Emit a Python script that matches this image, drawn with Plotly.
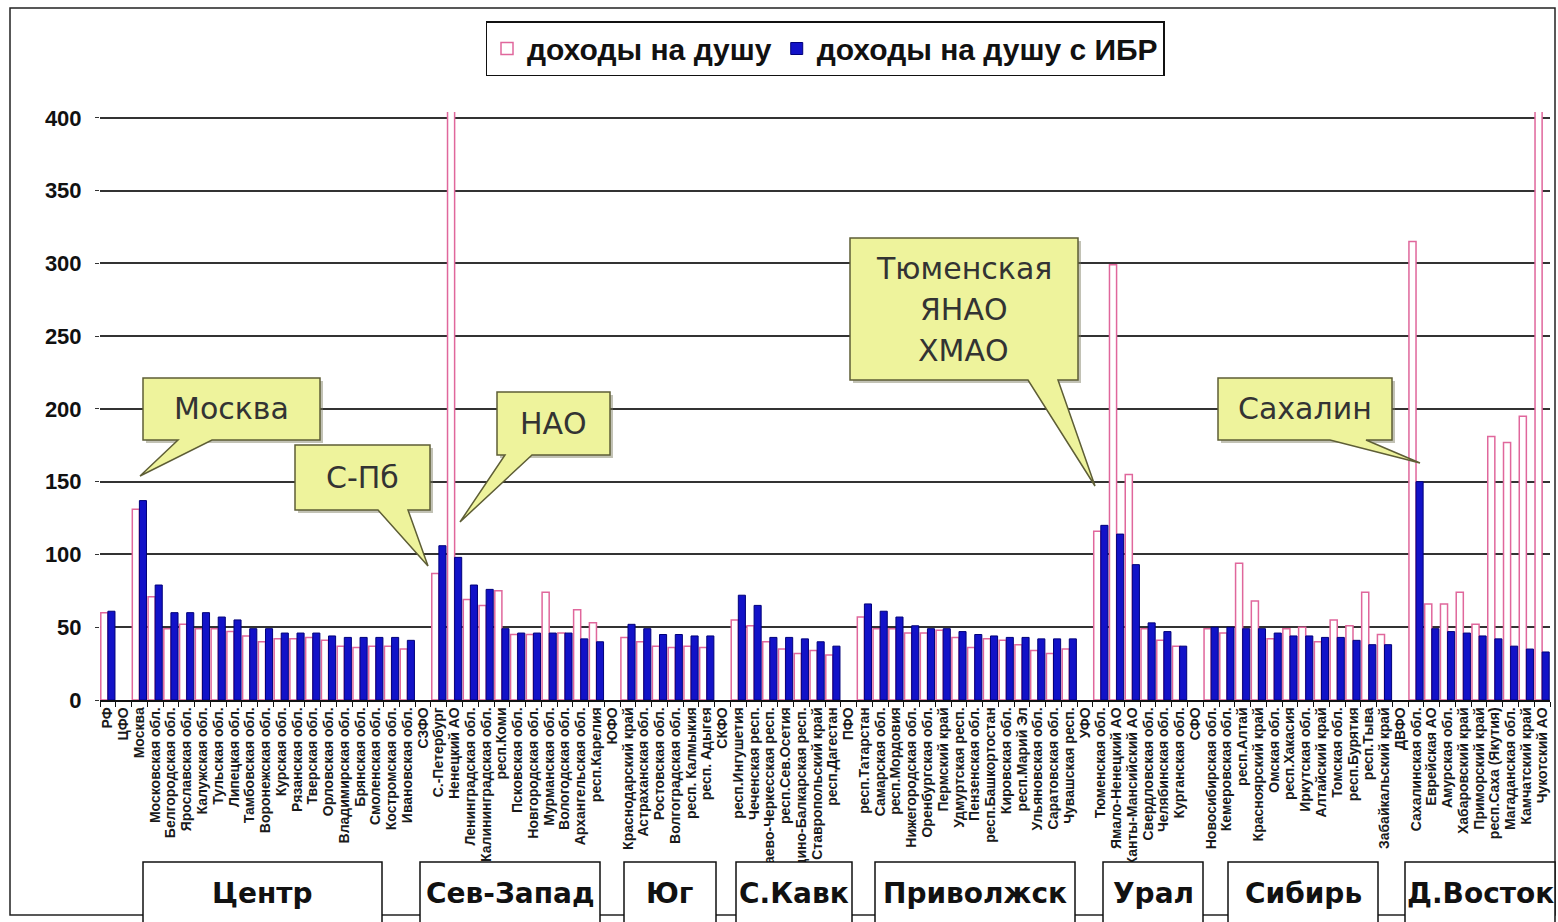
import plotly.graph_objects as go

categories = [
    "РФ", "ЦФО", "Москва", "Московская обл.", "Белгородская обл.", "Ярославская обл.",
    "Калужская обл.", "Тульская обл.", "Липецкая обл.", "Тамбовская обл.", "Воронежская обл.",
    "Курская обл.", "Рязанская обл.", "Тверская обл.", "Орловская обл.", "Владимирская обл.",
    "Брянская обл.", "Смоленская обл.", "Костромская обл.", "Ивановская обл.",
    "СЗФО", "С.-Петербург", "Ненецкий АО", "Ленинградская обл.", "Калининградская обл.",
    "респ.Коми", "Псковская обл.", "Новгородская обл.", "Мурманская обл.", "Вологодская обл.",
    "Архангельская обл.", "респ.Карелия",
    "ЮФО", "Краснодарский край", "Астраханская обл.", "Ростовская обл.", "Волгоградская обл.",
    "респ. Калмыкия", "респ. Адыгея",
    "СКФО", "респ.Ингушетия", "Чеченская респ.", "Карачаево-Черкесская респ.", "респ.Сев.Осетия",
    "Кабардино-Балкарская респ.", "Ставропольский край", "респ.Дагестан",
    "ПФО", "респ.Татарстан", "Самарская обл.", "респ.Мордовия", "Нижегородская обл.",
    "Оренбургская обл.", "Пермский край", "Удмуртская респ.", "Пензенская обл.",
    "респ.Башкортостан", "Кировская обл.", "респ.Марий Эл", "Ульяновская обл.",
    "Саратовская обл.", "Чувашская респ.",
    "УФО", "Тюменская обл.", "Ямало-Ненецкий АО", "Ханты-Мансийский АО", "Свердловская обл.",
    "Челябинская обл.", "Курганская обл.",
    "СФО", "Новосибирская обл.", "Кемеровская обл.", "респ.Алтай", "Красноярский край",
    "Омская обл.", "респ.Хакасия", "Иркутская обл.", "Алтайский край", "Томская обл.",
    "респ.Бурятия", "респ.Тыва", "Забайкальский край",
    "ДВФО", "Сахалинская обл.", "Еврейская АО", "Амурская обл.", "Хабаровский край",
    "Приморский край", "респ.Саха (Якутия)", "Магаданская обл.", "Камчатский край", "Чукотский АО",
]

income = [
    60, None, 131, 71, 49, 52, 49, 49, 47, 44, 40, 42, 42, 43, 41, 37, 36, 37, 37, 35,
    None, 87, 700, 69, 65, 75, 45, 45, 74, 46, 62, 53,
    None, 43, 40, 37, 36, 37, 36,
    None, 55, 51, 40, 35, 32, 34, 31,
    None, 57, 49, 49, 46, 46, 48, 43, 36, 42, 41, 38, 34, 32, 35,
    None, 116, 299, 155, 49, 41, 37,
    None, 49, 46, 94, 68, 42, 49, 50, 40, 55, 51, 74, 45,
    None, 315, 66, 66, 74, 52, 181, 177, 195, 700,
]

income_ibr = [
    61, None, 137, 79, 60, 60, 60, 57, 55, 49, 49, 46, 46, 46, 44, 43, 43, 43, 43, 41,
    None, 106, 98, 79, 76, 49, 46, 46, 46, 46, 42, 40,
    None, 52, 49, 45, 45, 44, 44,
    None, 72, 65, 43, 43, 42, 40, 37,
    None, 66, 61, 57, 51, 49, 49, 47, 45, 44, 43, 43, 42, 42, 42,
    None, 120, 114, 93, 53, 47, 37,
    None, 50, 50, 49, 49, 46, 44, 44, 43, 43, 41, 38, 38,
    None, 150, 49, 47, 46, 44, 42, 37, 35, 33,
]

series_names = ["доходы на душу", "доходы на душу с ИБР"]
y_ticks = [0, 50, 100, 150, 200, 250, 300, 350, 400]

groups = ["Центр", "Сев-Запад", "Юг", "С.Кавк", "Приволжск", "Урал", "Сибирь", "Д.Восток"]
group_boxes = [(143, 382), (420, 600), (624, 716), (736, 852), (875, 1075), (1103, 1203),
               (1228, 1378), (1405, 1555)]

W, H = 1558, 922
L, R, T, B = 100, 1550, 112, 700


def px(x):
    return (x - L) / (R - L)


def py(y):
    return (B - y) / (B - T)


fig = go.Figure()
fig.add_trace(go.Bar(
    x=categories, y=income, name=series_names[0],
    marker=dict(color="white", line=dict(color="#e0679c", width=1.5)),
))
fig.add_trace(go.Bar(
    x=categories, y=income_ibr, name=series_names[1],
    marker=dict(color="#1212c8", line=dict(color="#00007a", width=1)),
))

shapes = []
annotations = []

# outer frame
shapes.append(dict(type="rect", xref="paper", yref="paper",
                   x0=px(10), x1=px(1555), y0=py(915), y1=py(8),
                   line=dict(color="#222", width=1.5), fillcolor="rgba(0,0,0,0)", layer="below"))

# callouts: (box x0, x1, y0, y1, base_left, base_right, tip_x, tip_y, lines)
callouts = [
    (143, 320, 378, 440, 178, 212, 140, 476, ["Москва"]),
    (295, 430, 445, 510, 378, 408, 428, 566, ["С-Пб"]),
    (497, 610, 392, 455, 505, 532, 460, 522, ["НАО"]),
    (850, 1078, 238, 380, 1028, 1058, 1095, 486, ["Тюменская", "ЯНАО", "ХМАО"]),
    (1218, 1392, 378, 440, 1330, 1366, 1420, 463, ["Сахалин"]),
]
for (x0, x1, y0, y1, bl, br, tx, ty, lines) in callouts:
    sh = 3
    spath = (f"M {px(x0+sh)},{py(y0+sh)} L {px(x1+sh)},{py(y0+sh)} L {px(x1+sh)},{py(y1+sh)} "
             f"L {px(x0+sh)},{py(y1+sh)} Z")
    shapes.append(dict(type="path", xref="paper", yref="paper", path=spath,
                       fillcolor="rgba(120,120,90,0.45)", line=dict(width=0), layer="above"))
    path = (f"M {px(x0)},{py(y0)} L {px(x1)},{py(y0)} L {px(x1)},{py(y1)} "
            f"L {px(br)},{py(y1)} L {px(tx)},{py(ty)} L {px(bl)},{py(y1)} "
            f"L {px(x0)},{py(y1)} Z")
    shapes.append(dict(type="path", xref="paper", yref="paper", path=path,
                       fillcolor="#eef39c", line=dict(color="#5e5e36", width=1.5), layer="above"))
    n = len(lines)
    cy = (y0 + y1) / 2
    for k, t in enumerate(lines):
        yy = cy + (k - (n - 1) / 2) * 41
        annotations.append(dict(xref="paper", yref="paper", x=px((x0 + x1) / 2), y=py(yy),
                                text=t, showarrow=False, xanchor="center", yanchor="middle",
                                font=dict(family="DejaVu Sans", size=30, color="#333")))

# group boxes at the bottom
for g, (a, b) in zip(groups, group_boxes):
    shapes.append(dict(type="rect", xref="paper", yref="paper",
                       x0=px(a), x1=px(b), y0=py(935), y1=py(862),
                       fillcolor="white", line=dict(color="#111", width=1.5), layer="above"))
    annotations.append(dict(xref="paper", yref="paper", x=px((a + b) / 2), y=py(893),
                            text=g, showarrow=False, xanchor="center", yanchor="middle",
                            font=dict(family="DejaVu Sans", size=28, color="#111", weight="bold")))

fig.update_layout(
    width=W, height=H,
    margin=dict(l=L, r=W - R, t=T, b=H - B, pad=0),
    paper_bgcolor="white", plot_bgcolor="white",
    barmode="group", bargap=0.1, bargroupgap=0,
    showlegend=True,
    legend=dict(orientation="h", x=0.5, xanchor="center", y=py(21), yanchor="top",
                bordercolor="#111", borderwidth=1.5, bgcolor="white",
                font=dict(family="Liberation Sans", size=30, color="#111", weight="bold"),
                itemwidth=30, traceorder="normal", tracegroupgap=0),
    shapes=shapes,
    annotations=annotations,
    xaxis=dict(
        type="category", showgrid=False, showline=True, linecolor="#111", linewidth=1.5,
        ticks="outside", tickson="boundaries", ticklen=5, tickcolor="#111",
        tickmode="linear", tick0=0, dtick=1,
        tickangle=-90,
        tickfont=dict(family="Liberation Sans", size=14, color="#1a1a1a", weight="bold"),
        range=[-0.5, len(categories) - 0.5],
    ),
    yaxis=dict(
        range=[0, 404], tickvals=y_ticks, showgrid=True, gridcolor="#333", gridwidth=1.5,
        showline=False, zeroline=False, ticks="outside", ticklen=4, tickcolor="#333",
        tickfont=dict(family="Liberation Sans", size=22, color="#111", weight="bold"),
        ticklabelstandoff=9,
    ),
)

fig.write_html("out.html", config={"displayModeBar": False},
               post_script="document.body.style.margin='0';document.body.style.overflow='hidden';")
